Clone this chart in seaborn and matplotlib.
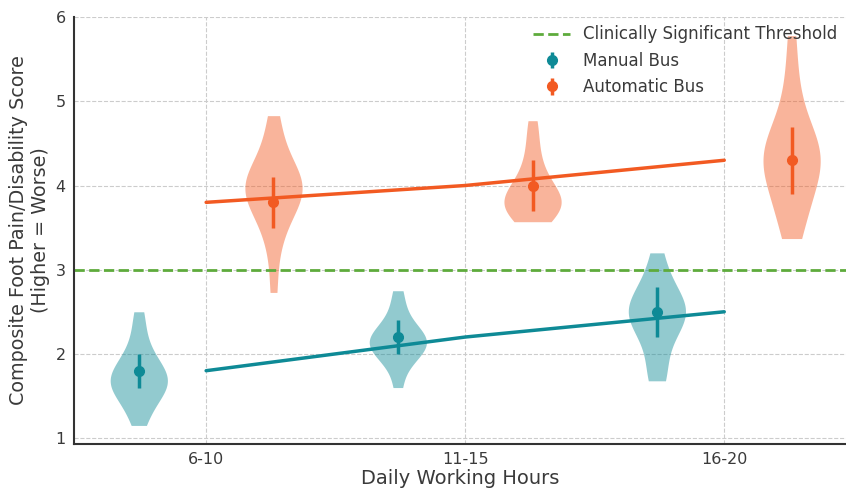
import pandas as pd
import seaborn as sns
from matplotlib import pyplot as plt

hours = ["6-10", "11-15", "16-20"]

manual_mean = [1.8, 2.2, 2.5]
manual_sd = [0.2, 0.2, 0.3]
auto_mean = [3.8, 4.0, 4.3]
auto_sd = [0.3, 0.3, 0.4]

# samples behind the violins, one list per group
manual_scores = [
    [1.15, 1.3, 1.4, 1.48, 1.55, 1.6, 1.62, 1.65, 1.68, 1.72, 1.75, 1.8, 1.85, 1.9, 2.0, 2.1, 2.3, 2.5],
    [1.6, 1.85, 1.95, 2.0, 2.05, 2.1, 2.12, 2.15, 2.18, 2.2, 2.25, 2.3, 2.4, 2.55, 2.75],
    [1.68, 1.75, 2.0, 2.2, 2.3, 2.4, 2.45, 2.5, 2.5, 2.55, 2.6, 2.7, 2.8, 2.95, 3.2],
]
auto_scores = [
    [2.73, 3.2, 3.45, 3.6, 3.7, 3.8, 3.85, 3.9, 3.95, 4.0, 4.0, 4.05, 4.1, 4.15, 4.25, 4.4, 4.6, 4.83],
    [3.57, 3.6, 3.65, 3.7, 3.75, 3.78, 3.8, 3.82, 3.85, 3.9, 3.95, 4.0, 4.1, 4.2, 4.35, 4.55, 4.77],
    [3.37, 3.5, 3.7, 3.85, 3.95, 4.05, 4.15, 4.25, 4.3, 4.35, 4.4, 4.45, 4.5, 4.6, 4.75, 5.0, 5.3, 5.78],
]

threshold = 3.0

TEAL = "#0e8a96"
ORANGE = "#f25a22"
GREEN = "#5eab3c"
TEXT = "#3a3a3a"
OFFSET = 0.26


def build_frame() -> pd.DataFrame:
    rows = []
    for i in range(len(hours)):
        for v in manual_scores[i]:
            rows.append({"pos": i - OFFSET, "bus": "Manual Bus", "score": v})
        for v in auto_scores[i]:
            rows.append({"pos": i + OFFSET, "bus": "Automatic Bus", "score": v})
    return pd.DataFrame(rows)


sns.set_theme(style="white")
plt.rcParams["font.family"] = ["DejaVu Sans"]

fig = plt.figure(figsize=(8.46, 4.9), dpi=100)
ax = fig.add_axes([0.0875, 0.094, 0.9125, 0.871])

df = build_frame()
sns.violinplot(
    data=df, x="pos", y="score", hue="bus", native_scale=True, dodge=False,
    palette={"Manual Bus": TEAL, "Automatic Bus": ORANGE}, saturation=1,
    inner=None, cut=0, density_norm="width", width=0.46, linewidth=0,
    alpha=0.45, legend=False, ax=ax,
)

x = list(range(len(hours)))
sns.lineplot(x=x, y=manual_mean, color=TEAL, lw=2.5, ax=ax)
sns.lineplot(x=x, y=auto_mean, color=ORANGE, lw=2.5, ax=ax)

thr = ax.axhline(threshold, color=GREEN, ls="--", lw=2, label="Clinically Significant Threshold")
m = ax.errorbar([i - OFFSET for i in x], manual_mean, yerr=manual_sd, fmt="o", color=TEAL,
                ms=7, elinewidth=2.5, label="Manual Bus")
a = ax.errorbar([i + OFFSET for i in x], auto_mean, yerr=auto_sd, fmt="o", color=ORANGE,
                ms=7, elinewidth=2.5, label="Automatic Bus")

ax.set_xlim(-0.51, 2.47)
ax.set_ylim(0.93, 6.0)
ax.set_xticks(x)
ax.set_xticklabels(hours)
ax.set_yticks([1, 2, 3, 4, 5, 6])
ax.grid(True, ls="--", color="#cccccc", lw=0.8)
ax.set_axisbelow(True)
for s in ["top", "right"]:
    ax.spines[s].set_visible(False)
for s in ["left", "bottom"]:
    ax.spines[s].set_color("#333333")
    ax.spines[s].set_linewidth(1.5)
ax.tick_params(direction="in", length=4, width=1, colors=TEXT, labelsize=11.5, pad=6)

ax.set_xlabel("Daily Working Hours", fontsize=14, color=TEXT, labelpad=1)
ax.set_ylabel("Composite Foot Pain/Disability Score\n(Higher = Worse)", fontsize=13.8, color=TEXT)

ax.legend(handles=[thr, m, a], loc="upper right", frameon=False, fontsize=12,
          borderaxespad=0.1, labelcolor=TEXT, handlelength=2.2)

fig.savefig("out.png", dpi=100)
